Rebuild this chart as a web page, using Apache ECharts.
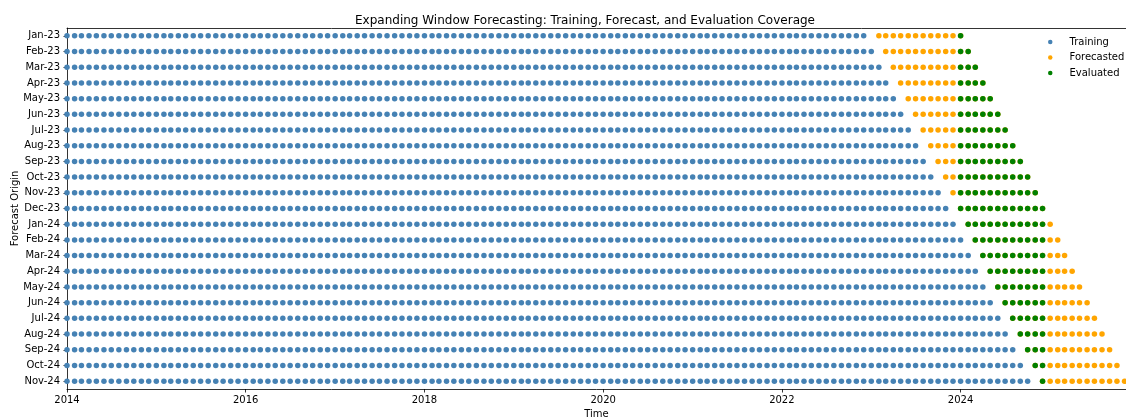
<!DOCTYPE html>
<html>
<head>
<meta charset="utf-8">
<title>Expanding Window Forecasting</title>
<script src="https://cdn.jsdelivr.net/npm/echarts@6/dist/echarts.min.js"></script>
<style>
  html, body { margin: 0; padding: 0; background: #fff; }
  #chart { width: 1126px; height: 417px; }
</style>
</head>
<body>
<div id="chart"></div>
<script>
// Forecast origins, one row each (top to bottom)
const origins = ['Jan-23', 'Feb-23', 'Mar-23', 'Apr-23', 'May-23', 'Jun-23', 'Jul-23', 'Aug-23',
  'Sep-23', 'Oct-23', 'Nov-23', 'Dec-23', 'Jan-24', 'Feb-24', 'Mar-24', 'Apr-24', 'May-24',
  'Jun-24', 'Jul-24', 'Aug-24', 'Sep-24', 'Oct-24', 'Nov-24'];

// Training window: shared start month, last month per origin
const trainStart = '2014-01';
const trainEnd = ['2022-12', '2023-01', '2023-02', '2023-03', '2023-04', '2023-05', '2023-06',
  '2023-07', '2023-08', '2023-09', '2023-10', '2023-11', '2023-12', '2024-01', '2024-02',
  '2024-03', '2024-04', '2024-05', '2024-06', '2024-07', '2024-08', '2024-09', '2024-10'];

// Forecast horizon per origin (first and last forecasted month)
const forecastStart = ['2023-02', '2023-03', '2023-04', '2023-05', '2023-06', '2023-07', '2023-08',
  '2023-09', '2023-10', '2023-11', '2023-12', '2024-01', '2024-02', '2024-03', '2024-04',
  '2024-05', '2024-06', '2024-07', '2024-08', '2024-09', '2024-10', '2024-11', '2024-12'];
const forecastEnd = ['2024-01', '2024-02', '2024-03', '2024-04', '2024-05', '2024-06', '2024-07',
  '2024-08', '2024-09', '2024-10', '2024-11', '2024-12', '2025-01', '2025-02', '2025-03',
  '2025-04', '2025-05', '2025-06', '2025-07', '2025-08', '2025-09', '2025-10', '2025-11'];

// Months with actuals available for evaluation
const evalStart = '2024-01';
const evalEnd = '2024-12';

// x-axis ticks (years) and visible extent in days from the epoch below
const tickYears = [2014, 2016, 2018, 2020, 2022, 2024];
const xEpoch = Date.UTC(2014, 0, 1);
const xMaxDays = 4328;

const DAY = 86400000;
function ymParts(s) { const p = s.split('-'); return [+p[0], +p[1]]; }
function dayOf(s) { const [y, m] = ymParts(s); return (Date.UTC(y, m - 1, 1) - xEpoch) / DAY; }
function monthRange(a, b) {
  const out = [];
  let [y, m] = ymParts(a);
  const [ye, me] = ymParts(b);
  while (y < ye || (y === ye && m <= me)) {
    out.push(y + '-' + String(m).padStart(2, '0'));
    m++; if (m > 12) { m = 1; y++; }
  }
  return out;
}

const trainingData = [];
const forecastData = [];
const evaluatedData = [];
origins.forEach((o, i) => {
  monthRange(trainStart, trainEnd[i]).forEach(ym => trainingData.push([dayOf(ym), i]));
  monthRange(forecastStart[i], forecastEnd[i]).forEach(ym => {
    forecastData.push([dayOf(ym), i]);
    if (ym >= evalStart && ym <= evalEnd) evaluatedData.push([dayOf(ym), i]);
  });
});

// Day offsets of each year tick, for a linear value axis
const tickDays = tickYears.map(y => (Date.UTC(y, 0, 1) - xEpoch) / DAY);
const tickStep = (tickDays[tickDays.length - 1] - tickDays[0]) / (tickDays.length - 1);

const FONT = 'DejaVu Sans';
const INK = '#000';
const chart = echarts.init(document.getElementById('chart'), null, { renderer: 'canvas' });

const dot = 5.5;
chart.setOption({
  animation: false,
  backgroundColor: '#fff',
  textStyle: { fontFamily: FONT },
  title: {
    text: 'Expanding Window Forecasting: Training, Forecast, and Evaluation Coverage',
    left: 580, top: 10, textAlign: 'center',
    textStyle: { fontFamily: FONT, fontSize: 12, fontWeight: 'normal', color: INK }
  },
  legend: {
    orient: 'vertical', left: 1043, top: 31,
    itemWidth: 4.5, itemHeight: 4.5, itemGap: 3.5,
    icon: 'circle',
    textStyle: { fontFamily: FONT, fontSize: 10, color: INK, lineHeight: 12, padding: [0, 0, 0, 12] },
    data: ['Training', 'Forecasted', 'Evaluated']
  },
  grid: { left: 67, right: 0, top: 28, bottom: 28, containLabel: false, outerBoundsMode: 'none' },
  xAxis: [{
    type: 'value',
    min: 0, max: xMaxDays, interval: tickStep,
    name: 'Time', nameLocation: 'middle', nameGap: 20, nameMoveOverlap: false,
    nameTextStyle: { fontFamily: FONT, fontSize: 10, color: INK, verticalAlign: 'top' },
    axisLine: { show: true, lineStyle: { color: INK, width: 0.8 } },
    axisTick: { show: true, length: 3.5, lineStyle: { color: INK, width: 0.8 } },
    axisLabel: {
      fontFamily: FONT, fontSize: 10, color: INK, margin: 6,
      showMaxLabel: false,
      formatter: v => String(new Date(xEpoch + v * DAY + DAY).getUTCFullYear())
    },
    splitLine: { show: false }
  }, {
    type: 'value', position: 'top', min: 0, max: xMaxDays,
    axisLine: { show: true, onZero: false, lineStyle: { color: INK, width: 0.8 } },
    axisTick: { show: false }, axisLabel: { show: false }, splitLine: { show: false }
  }],
  yAxis: {
    type: 'category', data: origins, inverse: true, boundaryGap: true,
    name: 'Forecast Origin', nameLocation: 'middle', nameGap: 47, nameRotate: 90,
    nameMoveOverlap: false,
    nameTextStyle: { fontFamily: FONT, fontSize: 10, color: INK },
    axisLine: { show: true, lineStyle: { color: INK, width: 0.8 } },
    axisTick: { show: true, alignWithLabel: true, length: 3.5, lineStyle: { color: INK, width: 0.8 } },
    axisLabel: { fontFamily: FONT, fontSize: 10, color: INK, margin: 7, interval: 0 },
    splitLine: { show: false }
  },
  series: [
    { name: 'Training', type: 'scatter', data: trainingData, symbolSize: dot,
      itemStyle: { color: '#4682B4', opacity: 1 } },
    { name: 'Forecasted', type: 'scatter', data: forecastData, symbolSize: dot,
      itemStyle: { color: '#FFA500', opacity: 1 } },
    { name: 'Evaluated', type: 'scatter', data: evaluatedData, symbolSize: dot,
      itemStyle: { color: '#008000', opacity: 1 } }
  ]
});
</script>
</body>
</html>
